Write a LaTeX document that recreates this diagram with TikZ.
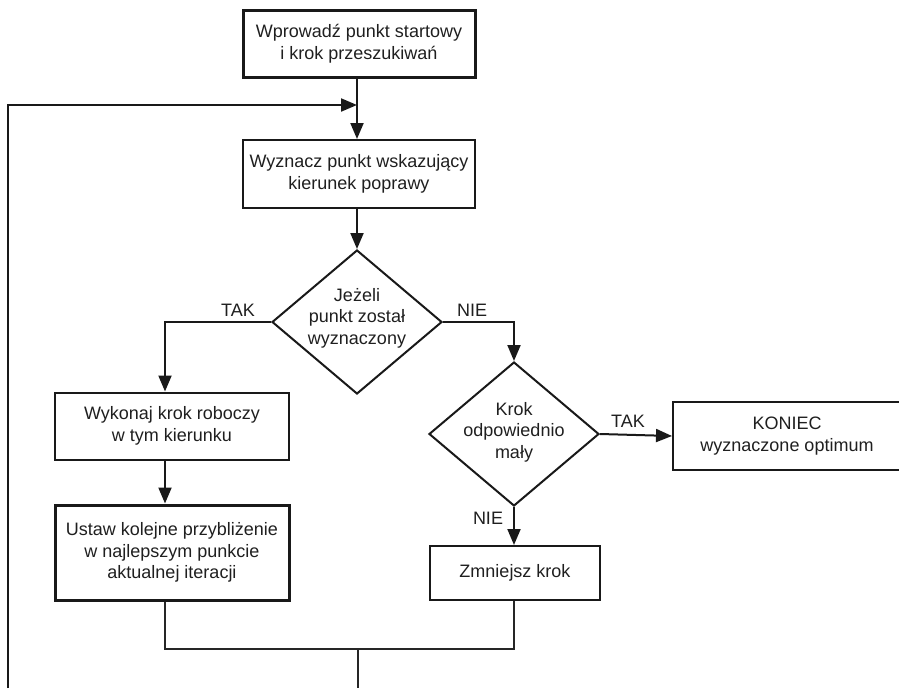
\documentclass[tikz,border=0pt]{standalone}
\usepackage{fontspec}
\setmainfont{Liberation Sans}
\usetikzlibrary{arrows.meta,shapes.geometric}
\begin{document}
\begin{tikzpicture}[x=1pt,y=-1pt,
  txt/.style={font=\fontsize{18}{21.5}\selectfont, text=black!88},
  box/.style={draw=black!90, line width=2pt, align=center, inner sep=0pt, txt},
  thickbox/.style={box, line width=3pt},
  dia/.style={draw=black!90, diamond, minimum width=170pt, minimum height=144pt, inner sep=0pt, line width=2pt},
  arr/.style={draw=black!90, line width=2pt, -{Triangle[length=16pt,width=13pt]}},
  thinln/.style={draw=black!85, line width=1.6pt},
  lbl/.style={txt, inner sep=0pt}]
\useasboundingbox (0,0) rectangle (899,688);

\node[thickbox, minimum width=232pt, minimum height=67pt] (b1) at (359,43.5) {Wprowadź punkt startowy\\i krok przeszukiwań};
\node[box, minimum width=232pt, minimum height=68pt] (b2) at (359,174) {Wyznacz punkt wskazujący\\kierunek poprawy};
\node[dia] (d1) at (357,322) {};
\node[txt, align=center, inner sep=0pt] (d1t) at (357,318) {Jeżeli\\punkt został\\wyznaczony};
\node[box, minimum width=234pt, minimum height=67pt] (b3) at (172,426) {Wykonaj krok roboczy\\w tym kierunku};
\node[thickbox, minimum width=234pt, minimum height=95pt] (b4) at (172,552.5) {Ustaw kolejne przybliżenie\\w najlepszym punkcie\\aktualnej iteracji};
\node[dia] (d2) at (514,434) {};
\node[txt, align=center, inner sep=0pt] (d2t) at (514,432) {Krok\\odpowiednio\\mały};
\node[box, minimum width=228pt, minimum height=68pt] (kon) at (787,436) {KONIEC\\wyznaczone optimum};
\node[box, minimum width=170pt, minimum height=54pt] (b5) at (515,573) {Zmniejsz krok};

\node[lbl] (tak1) at (238,310) {TAK};
\node[lbl] (nie1) at (472,310) {NIE};
\node[lbl] (tak2) at (628,421) {TAK};
\node[lbl] (nie2) at (488,518) {NIE};

\coordinate (X) at (357,0);
\coordinate (J) at (357,105);
\coordinate (L1) at (165,322);
\coordinate (R1) at (514,322);
\coordinate (M4) at (165,649);
\coordinate (M5) at (514,649);
\coordinate (M) at (358,649);
\coordinate (Mb) at (358,688);
\coordinate (Lb) at (8,688);
\coordinate (Lt) at (8,105);

\draw[arr] (b1.south -| X) -- (b2.north -| X);
\draw[arr] (Lb) -- (Lt) -- (J);
\draw[arr] (b2.south -| X) -- (d1.north);
\draw[arr] (d1.west) -- (L1) -- (b3.north -| L1);
\draw[arr] (d1.east) -- (R1) -- (d2.north);
\draw[arr] (d2.east) -- (kon.west);
\draw[arr] (d2.south) -- (b5.north -| d2.south);
\draw[arr] (b3.south -| L1) -- (b4.north -| L1);
\draw[thinln] (b4.south -| M4) -- (M4) -- (M5) -- (b5.south -| M5);
\draw[thinln] (M) -- (Mb);
\end{tikzpicture}
\end{document}
